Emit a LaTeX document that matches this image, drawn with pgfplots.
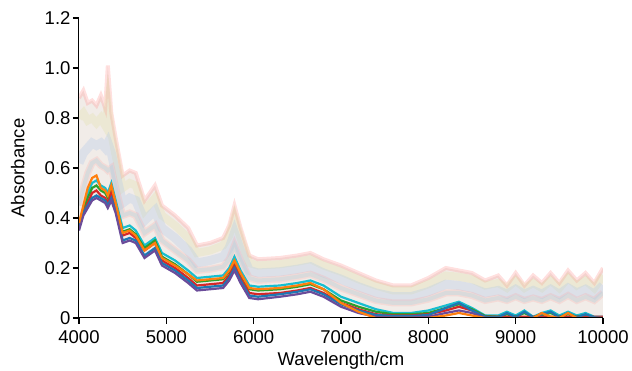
\documentclass[border=0pt]{standalone}
\usepackage{pgfplots}
\pgfplotsset{compat=1.18}
\usepackage{pgfplotstable}
\usepackage{fontspec}
\setmainfont{Liberation Sans}

\definecolor{tpurple}{HTML}{6B4C9A}
\definecolor{tblue}{HTML}{1F77B4}
\definecolor{tred}{HTML}{D62728}
\definecolor{tteal}{HTML}{17BECF}
\definecolor{tgreen}{HTML}{2CA02C}
\definecolor{torange}{HTML}{FF7F0E}
\definecolor{ppink}{HTML}{FF9896}
\definecolor{pgreen}{HTML}{DBDB8D}
\definecolor{pblue}{HTML}{AEC7E8}
\definecolor{pcyan}{HTML}{9EDAE5}
\definecolor{pfill}{HTML}{F1ECE8}

\pgfplotstableread{
x T P3 P4 P6 C O G R B b
4000 0.88 0.80 0.62 0.45 0.37 0.38 0.375 0.38 0.36 0.35
4050 0.91 0.82 0.66 0.52 0.44 0.45 0.43 0.42 0.42 0.41
4100 0.86 0.79 0.68 0.58 0.50 0.52 0.48 0.46 0.45 0.44
4150 0.87 0.80 0.70 0.62 0.54 0.56 0.52 0.50 0.48 0.47
4200 0.85 0.78 0.69 0.63 0.55 0.57 0.53 0.51 0.49 0.48
4250 0.89 0.80 0.70 0.61 0.53 0.52 0.51 0.49 0.48 0.47
4300 0.84 0.77 0.68 0.60 0.52 0.51 0.50 0.48 0.47 0.46
4330 1.01 0.85 0.70 0.59 0.50 0.49 0.48 0.46 0.45 0.44
4370 0.82 0.74 0.66 0.60 0.54 0.53 0.52 0.50 0.48 0.47
4420 0.72 0.65 0.58 0.52 0.47 0.46 0.45 0.43 0.43 0.42
4500 0.57 0.52 0.46 0.41 0.36 0.34 0.345 0.33 0.31 0.30
4580 0.59 0.54 0.48 0.42 0.37 0.35 0.355 0.34 0.32 0.31
4650 0.58 0.53 0.47 0.41 0.35 0.33 0.335 0.32 0.31 0.30
4750 0.47 0.43 0.39 0.34 0.29 0.27 0.28 0.27 0.25 0.24
4870 0.53 0.48 0.43 0.37 0.32 0.30 0.31 0.30 0.28 0.27
4950 0.45 0.41 0.36 0.31 0.26 0.24 0.245 0.23 0.22 0.21
5100 0.41 0.37 0.32 0.27 0.23 0.21 0.215 0.20 0.19 0.18
5250 0.36 0.32 0.27 0.23 0.19 0.175 0.175 0.16 0.15 0.14
5350 0.29 0.26 0.22 0.19 0.16 0.15 0.145 0.13 0.12 0.11
5500 0.30 0.27 0.23 0.195 0.165 0.155 0.15 0.135 0.125 0.115
5650 0.32 0.29 0.245 0.205 0.17 0.16 0.155 0.14 0.13 0.12
5720 0.37 0.33 0.28 0.235 0.20 0.19 0.185 0.17 0.16 0.15
5780 0.45 0.40 0.34 0.29 0.245 0.23 0.225 0.21 0.20 0.19
5850 0.36 0.32 0.27 0.23 0.19 0.18 0.175 0.16 0.15 0.14
5950 0.25 0.22 0.19 0.16 0.13 0.12 0.115 0.10 0.09 0.08
6050 0.235 0.21 0.18 0.15 0.125 0.115 0.11 0.095 0.085 0.075
6300 0.24 0.215 0.185 0.155 0.13 0.12 0.115 0.10 0.095 0.085
6500 0.25 0.225 0.195 0.165 0.14 0.13 0.125 0.11 0.105 0.095
6650 0.26 0.235 0.205 0.175 0.15 0.14 0.135 0.12 0.115 0.105
6800 0.235 0.21 0.18 0.155 0.13 0.115 0.115 0.10 0.095 0.085
7000 0.21 0.185 0.155 0.12 0.085 0.06 0.07 0.06 0.055 0.045
7200 0.18 0.155 0.125 0.095 0.06 0.025 0.045 0.035 0.03 0.02
7400 0.15 0.13 0.10 0.07 0.035 0.0 0.025 0.015 0.012 0.005
7600 0.13 0.11 0.085 0.06 0.02 0.0 0.015 0.01 0.008 0.002
7800 0.13 0.11 0.085 0.06 0.02 0.0 0.015 0.01 0.008 0.002
8000 0.16 0.135 0.105 0.075 0.03 0.0 0.02 0.015 0.012 0.005
8200 0.20 0.17 0.135 0.10 0.05 0.01 0.04 0.03 0.04 0.02
8350 0.19 0.165 0.13 0.10 0.065 0.02 0.055 0.045 0.06 0.03
8500 0.18 0.155 0.12 0.09 0.04 0.01 0.035 0.03 0.03 0.02
8650 0.15 0.13 0.10 0.07 0.01 0.0 0.008 0.005 0.005 0.0
8800 0.17 0.14 0.11 0.08 0.01 0.0 0.005 0.005 0.003 0.0
8900 0.13 0.12 0.095 0.07 0.025 0.0 0.015 0.005 0.02 0.0
9000 0.18 0.15 0.115 0.085 0.01 0.0 0.005 0.005 0.003 0.0
9100 0.13 0.12 0.095 0.07 0.03 0.0 0.02 0.005 0.025 0.0
9200 0.17 0.14 0.11 0.08 0.005 0.0 0.003 0.005 0.003 0.0
9300 0.14 0.12 0.095 0.07 0.02 0.02 0.012 0.005 0.015 0.0
9400 0.18 0.15 0.115 0.085 0.03 0.005 0.02 0.005 0.025 0.0
9500 0.14 0.12 0.095 0.07 0.01 0.0 0.005 0.005 0.003 0.0
9600 0.19 0.16 0.12 0.09 0.025 0.02 0.015 0.005 0.02 0.0
9700 0.15 0.13 0.10 0.07 0.01 0.0 0.005 0.005 0.003 0.0
9800 0.18 0.15 0.115 0.085 0.02 0.0 0.012 0.005 0.015 0.0
9900 0.14 0.12 0.095 0.07 0.005 0.0 0.003 0.005 0.003 0.0
10000 0.20 0.17 0.13 0.10 0.005 0.0 0.003 0.005 0.0 0.0
}\spectra

\begin{document}
\begin{tikzpicture}
\begin{axis}[
  at={(0pt,0pt)}, anchor=south west,
  scale only axis,
  width=524pt, height=300pt,
  xmin=4000, xmax=10000, ymin=0, ymax=1.2,
  axis x line*=bottom, axis y line*=left,
  axis on top,
  axis line style={line width=1pt},
  tick align=outside,
  xtick style={draw=black, line width=1.1pt, solid},
  ytick style={draw=black, line width=1.1pt, solid},
  major tick length=6pt,
  scaled x ticks=false,
  xtick={4000,5000,6000,7000,8000,9000,10000},
  xticklabels={4000,5000,6000,7000,8000,9000,10000},
  ytick={0,0.2,0.4,0.6,0.8,1.0,1.2},
  yticklabels={0,0.2,0.4,0.6,0.8,1.0,1.2},
  tick label style={font=\fontsize{18.5}{21}\selectfont},
  xticklabel style={yshift=-3pt},
  yticklabel style={xshift=1pt},
  xlabel={Wavelength/cm},
  ylabel={Absorbance},
  every axis x label/.style={at={(axis description cs:0.5,-0.16)}, anchor=base, font=\fontsize{18.5}{21}\selectfont},
  every axis y label/.style={at={(axis description cs:-0.117,0.5)}, anchor=center, rotate=90, font=\fontsize{18.5}{21}\selectfont},
  clip=true,
]
\addplot[fill=pfill, draw=none] table[x=x,y=T]{\spectra} \closedcycle;
\addplot[fill=white, draw=none] table[x=x,y=b]{\spectra} \closedcycle;
\addplot[ppink, opacity=0.3, line width=4pt] table[x=x,y=T]{\spectra};
\addplot[pgreen, opacity=0.22, line width=8pt] table[x=x,y=P3]{\spectra};
\addplot[pblue, opacity=0.3, line width=9pt] table[x=x,y=P4]{\spectra};
\addplot[ppink, opacity=0.2, line width=7pt] table[x=x,y=P6]{\spectra};
\addplot[pcyan, opacity=0.3, line width=4pt] table[x=x,y=P6]{\spectra};
\addplot[tteal, line width=2.2pt] table[x=x,y=C]{\spectra};
\addplot[tgreen, line width=2.2pt] table[x=x,y=G]{\spectra};
\addplot[tred, line width=2.2pt] table[x=x,y=R]{\spectra};
\addplot[tblue, line width=2.2pt] table[x=x,y=B]{\spectra};
\addplot[tpurple, line width=2.2pt] table[x=x,y=b]{\spectra};
\addplot[torange, line width=2.2pt] table[x=x,y=O]{\spectra};
\end{axis}
% tick marks of the axes (decoration only)
\foreach \i in {0,...,6} {
  \draw[black, line width=1pt] (\i*87.3333pt,0pt) -- (\i*87.3333pt,-6pt);
  \draw[black, line width=1pt] (0pt,\i*50pt) -- (-6pt,\i*50pt);
}
\pgfresetboundingbox
\path (-79pt,-53pt) rectangle (553pt,318pt);
\end{tikzpicture}
\end{document}
